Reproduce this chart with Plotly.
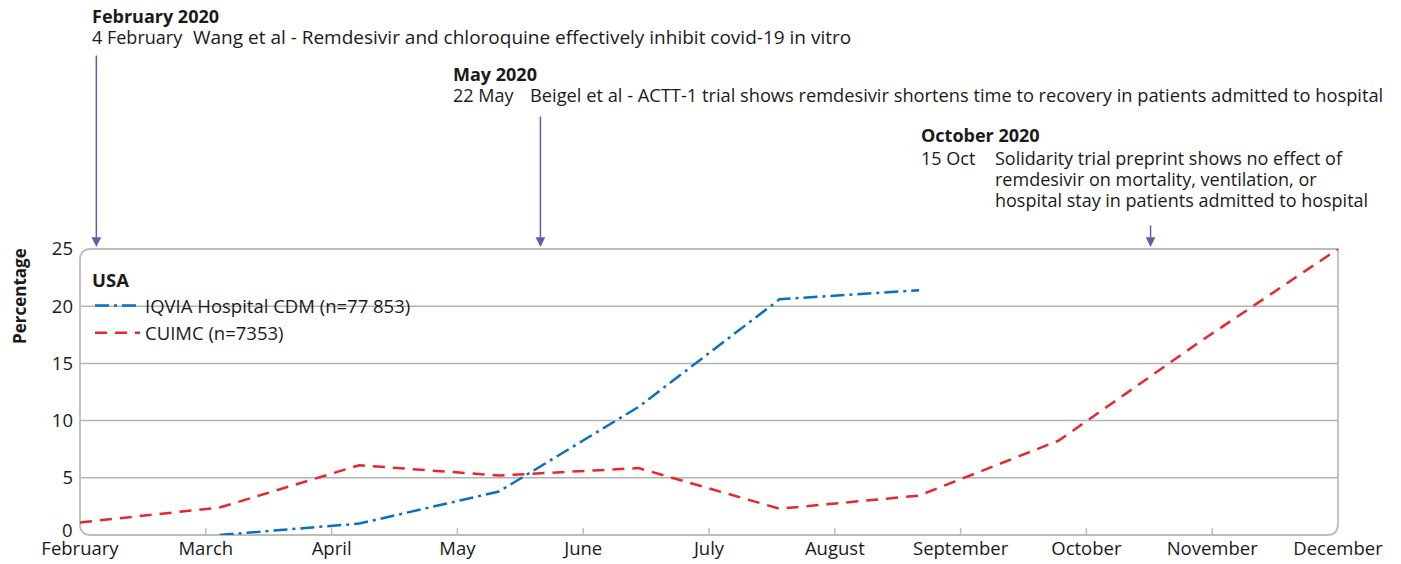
import plotly.graph_objects as go

# ---------------- data ----------------
month_labels = ["February", "March", "April", "May", "June", "July", "August",
                "September", "October", "November", "December"]
month_pos = list(range(len(month_labels)))

# sample positions (in months from February)
x_pos = [0.0, 1.11, 2.22, 3.33, 4.44, 5.56, 6.67, 7.78, 8.89, 10.0]

cuimc_name = "CUIMC (n=7353)"
cuimc_vals = [1.1, 2.4, 6.1, 5.2, 5.85, 2.3, 3.45, 8.25, 16.8, 25.0]

iqvia_name = "IQVIA Hospital CDM (n=77 853)"
iqvia_x = x_pos[1:7]
iqvia_vals = [0.0, 1.0, 3.8, 11.2, 20.6, 21.4]

y_ticks = [0, 5, 10, 15, 20, 25]
grid_vals = [5, 10, 15, 20]

event_heads = ["February 2020", "May 2020", "October 2020"]
event_dates = ["4 February", "22 May", "15 Oct"]
event_texts = [
    ["Wang et al - Remdesivir and chloroquine effectively inhibit covid-19 in vitro"],
    ["Beigel et al - ACTT-1 trial shows remdesivir shortens time to recovery in patients admitted to hospital"],
    ["Solidarity trial preprint shows no effect of",
     "remdesivir on mortality, ventilation, or",
     "hospital stay in patients admitted to hospital"],
]
event_pos = [0.13, 3.66, 8.51]

# ---------------- styling / layout ----------------
W, H = 1401, 564          # window size
OFF = 8                   # default page body margin
L, R, T, B = 80, 1338, 249, 535   # plot area in window pixels
PW, PH = R - L, B - T
FONT = "Open Sans"
BLUE = "#0a6fc2"
RED = "#e8262d"
PURPLE = "#6c5aa8"
GRID = "#b4b4b4"
TXT = "#1a1a1a"
TICK_SIZE = 18.5


def px(xp):
    return (xp - L) / PW


def py(yp):
    return (B - yp) / PH


fig = go.Figure()
fig.add_trace(go.Scatter(
    x=iqvia_x, y=iqvia_vals, mode="lines", name=iqvia_name,
    line=dict(color=BLUE, width=2.5, dash="14px,5px,3px,5px"),
    legendgroup="a", cliponaxis=False))
fig.add_trace(go.Scatter(
    x=x_pos, y=cuimc_vals, mode="lines", name=cuimc_name,
    line=dict(color=RED, width=2.5, dash="12px,8px"),
    legendgroup="b", cliponaxis=False))

shapes = []
for g in grid_vals:
    shapes.append(dict(type="line", xref="paper", yref="y", x0=0, x1=1, y0=g, y1=g,
                       line=dict(color=GRID, width=1.5), layer="below"))
rx, ry = 11 / PW, 11 / PH
path = (f"M 0,{1-ry} Q 0,1 {rx},1 L 1,1 L 1,{ry} Q 1,0 {1-rx},0 "
        f"L {rx},0 Q 0,0 0,{ry} Z")
shapes.append(dict(type="path", xref="paper", yref="paper", path=path,
                   line=dict(color="#bdbdbd", width=1.8), layer="below"))
for m in month_pos[1:-1]:
    shapes.append(dict(type="line", xref="x", yref="paper", ysizemode="pixel",
                       yanchor=0, x0=m, x1=m, y0=0, y1=7,
                       line=dict(color="#bdbdbd", width=1.5)))

annotations = []
annotations.append(dict(text="<b>Percentage</b>", xref="paper", yref="paper",
                        x=px(19), y=py(296), showarrow=False, textangle=-90,
                        font=dict(family=FONT, size=17, color=TXT),
                        xanchor="center", yanchor="middle"))
# the lowest y tick label sits slightly raised, clear of the month labels
annotations.append(dict(text=str(y_ticks[0]), xref="paper", yref="y", x=0, y=y_ticks[0],
                        xanchor="right", yanchor="middle", xshift=-5, yshift=6,
                        showarrow=False, font=dict(family=FONT, size=TICK_SIZE, color=TXT)))

head_px = [(90, 16), (451, 74), (919, 135)]
date_py = [37, 95, 158]
desc_px = [191, 528, 993]
desc_size = [19, 18.25, 18]
arrow_top = [52, 113, 222]
for i in range(3):
    hx, hy = head_px[i]
    annotations.append(dict(text=f"<b>{event_heads[i]}</b>", xref="paper", yref="paper",
                            x=px(hx), y=py(hy), showarrow=False, xanchor="left",
                            yanchor="middle", font=dict(family=FONT, size=18, color=TXT)))
    annotations.append(dict(text=event_dates[i], xref="paper", yref="paper",
                            x=px(hx), y=py(date_py[i]), showarrow=False, xanchor="left",
                            yanchor="middle", font=dict(family=FONT, size=18, color=TXT)))
    for j, line in enumerate(event_texts[i]):
        annotations.append(dict(text=line, xref="paper", yref="paper",
                                x=px(desc_px[i]), y=py(date_py[i] + 21 * j),
                                showarrow=False, xanchor="left", yanchor="middle",
                                font=dict(family=FONT, size=desc_size[i], color=TXT)))
    annotations.append(dict(text="", xref="x", yref="paper", x=event_pos[i], y=1,
                            showarrow=True, ax=0, ay=-(T - 2 - arrow_top[i]),
                            arrowhead=2, arrowsize=1.3, arrowwidth=1.5,
                            arrowcolor=PURPLE, standoff=2))

fig.update_layout(
    width=W - OFF, height=H - OFF,
    margin=dict(l=L - OFF, r=W - R, t=T - OFF, b=H - B, pad=0, autoexpand=False),
    paper_bgcolor="white", plot_bgcolor="white",
    font=dict(family=FONT, size=TICK_SIZE, color=TXT),
    xaxis=dict(range=[0, 10], tickvals=month_pos, ticktext=month_labels,
               showgrid=False, zeroline=False, showline=False, ticks="",
               automargin=False,
               tickfont=dict(family=FONT, size=TICK_SIZE, color=TXT), fixedrange=True),
    yaxis=dict(range=[0, 25], tickvals=y_ticks[1:], showgrid=False, zeroline=False,
               showline=False, ticks="", ticklabelstandoff=6, automargin=False,
               tickfont=dict(family=FONT, size=TICK_SIZE, color=TXT), fixedrange=True),
    legend=dict(x=px(90), y=py(263), xanchor="left", yanchor="top",
                bgcolor="rgba(0,0,0,0)", borderwidth=0,
                title=dict(text="<b>USA</b>", font=dict(family=FONT, size=18.5)),
                font=dict(family=FONT, size=18.5, color=TXT),
                tracegroupgap=0, itemwidth=45),
    shapes=shapes, annotations=annotations,
    showlegend=True,
)

fig.write_html("out.html")
